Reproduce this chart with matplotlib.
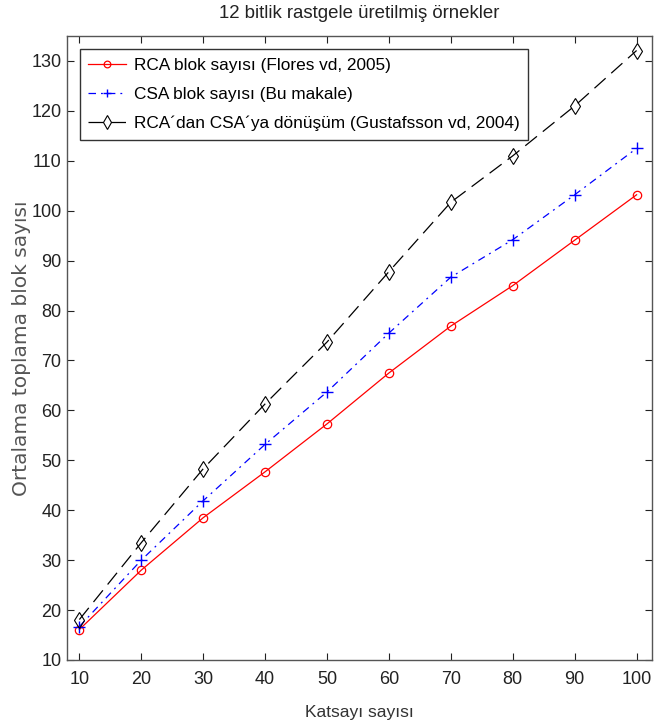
import matplotlib.pyplot as plt
import numpy as np

# katsayi sayisi (x ekseni)
katsayi = [10, 20, 30, 40, 50, 60, 70, 80, 90, 100]

# ortalama toplama blok sayilari
rca_flores = [16.1, 28.0, 38.5, 47.7, 57.3, 67.5, 76.9, 85.0, 94.1, 103.2]
csa_makale = [16.7, 30.0, 41.9, 53.2, 63.7, 75.5, 86.7, 94.2, 103.2, 112.5]
rca_csa_gustafsson = [18.1, 33.5, 48.3, 61.3, 73.7, 87.8, 101.7, 111.0, 121.0, 132.1]

etiketler = [
    "RCA blok sayısı (Flores vd, 2005)",
    "CSA blok sayısı (Bu makale)",
    "RCA\u00b4dan CSA\u00b4ya dönüşüm (Gustafsson vd, 2004)",
]

x_ticks = [10, 20, 30, 40, 50, 60, 70, 80, 90, 100]
y_ticks = [10, 20, 30, 40, 50, 60, 70, 80, 90, 100, 110, 120, 130]

plt.rcParams['font.family'] = ['Liberation Sans', 'DejaVu Sans']

fig = plt.figure(figsize=(6.6, 7.25), dpi=100, facecolor='white')
ax = fig.add_axes([0.1015, 0.0897, 0.8865, 0.8606])

lw = 0.9
ax.plot(katsayi, rca_flores, color='red', linestyle='-', linewidth=lw,
        marker='o', markersize=6, markerfacecolor='none', markeredgewidth=0.9,
        label=etiketler[0])
ax.plot(katsayi, csa_makale, color='blue', linestyle=(0, (6, 4, 1.5, 4)), linewidth=lw,
        marker='+', markersize=8, markeredgewidth=1.0,
        label=etiketler[1])
ax.plot(katsayi, rca_csa_gustafsson, color='black', linestyle=(0, (12, 6)), linewidth=lw,
        marker='d', markersize=8.5, markerfacecolor='none', markeredgewidth=0.8,
        label=etiketler[2])

ax.set_xlim(8, 102.5)
ax.set_ylim(10, 135)
ax.set_xticks(x_ticks)
ax.set_yticks(y_ticks)

# MATLAB-style box with inward ticks on every side
ax.tick_params(direction='in', length=5, width=0.8, top=True, right=True,
               labelsize=13, colors='#222222', pad=4)
ax.tick_params(axis='x', pad=8)
for spine in ax.spines.values():
    spine.set_color('#555555')
    spine.set_linewidth(1.0)

ax.set_title("12 bitlik rastgele üretilmiş örnekler", fontsize=13.4, pad=13, color='#222222')
ax.set_xlabel("Katsayı sayısı", fontsize=12.5, color='#333333', labelpad=12)
ax.set_ylabel("Ortalama toplama blok sayısı", fontsize=14.5, color='#555555',
              labelpad=0, family='DejaVu Sans')

leg = ax.legend(loc='upper left', bbox_to_anchor=(0.022, 0.979), fontsize=12.4,
                frameon=True, fancybox=False, edgecolor='black', handlelength=2.2,
                handletextpad=0.45, borderpad=0.5, labelspacing=0.8, borderaxespad=0)
leg.get_frame().set_linewidth(1.0)
for h in leg.legend_handles:
    h.set_markersize(h.get_markersize() * 0.8)

fig.savefig("out.png", dpi=100, facecolor='white')
